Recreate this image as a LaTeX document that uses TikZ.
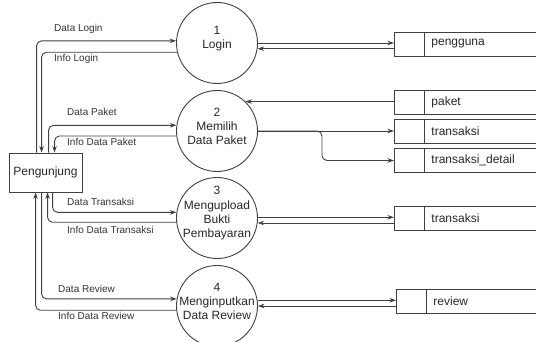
\documentclass[tikz,border=0pt]{standalone}
\usepackage{fontspec}
\setmainfont{Liberation Sans}
\usetikzlibrary{arrows.meta}
\colorlet{ln}{black!75}

\begin{document}
\begin{tikzpicture}[x=1pt, y=-1pt,
  proc/.style={circle, draw=ln, line width=0.9pt, minimum size=81pt, inner sep=0pt},
  ptext/.style={align=center, inner sep=0pt, font=\fontsize{12}{14.3}\selectfont, text=black!85},
  store/.style={draw=ln, line width=0.9pt, rectangle, anchor=west, minimum height=24pt, text width=150pt, inner xsep=0pt, align=left, font=\fontsize{12}{14}\selectfont, text=black!85, execute at begin node={\hspace*{37pt}}},
  ent/.style={draw=ln, line width=0.9pt, rectangle, minimum width=73pt, minimum height=39pt, inner sep=0pt, font=\fontsize{12}{14}\selectfont, text=black!85},
  lbl/.style={anchor=west, inner sep=0pt, text height=7pt, text depth=2pt, font=\fontsize{10}{12}\selectfont, text=black!80},
  flow/.style={draw=ln, line width=0.9pt, -{Stealth[length=6.5pt,width=4.5pt]}, rounded corners=5pt}]

  \useasboundingbox (0,0) rectangle (536,342);

  \node[ent] (peng) at (45.5,172.5) {Pengunjung};

  \node[proc] (p1) at (217,43) {};
  \node[proc] (p2) at (217,131) {};
  \node[proc] (p3) at (217,218) {};
  \node[proc] (p4) at (217,306) {};
  \node[ptext] (t1) at ([yshift=4.5pt]p1) {1\\Login};
  \node[ptext] (t2) at ([yshift=4.5pt]p2) {2\\Memilih\\Data Paket};
  \node[ptext] (t3) at ([yshift=4.5pt]p3) {3\\Mengupload\\Bukti\\Pembayaran};
  \node[ptext] (t4) at ([yshift=4.5pt]p4) {4\\Menginputkan\\Data Review};

  \node[store] (pengguna) at (394,44) {pengguna};
  \node[store] (paket) at (394,102.5) {paket};
  \node[store] (transaksi) at (394,131.5) {transaksi};
  \node[store] (detail) at (394,160.5) {transaksi\_detail};
  \node[store] (transaksi2) at (394,218.5) {transaksi};
  \node[store] (review) at (396,301.5) {review};
  \foreach \s in {pengguna,paket,transaksi,detail,transaksi2,review}
    \draw[draw=ln, line width=0.9pt] ([xshift=30pt]\s.north west) -- ([xshift=30pt]\s.south west);

  \draw[flow] ([xshift=28pt]peng.north west) |- (p1.177);
  \draw[flow] (p1.193) -| ([xshift=33pt]peng.north west);
  \draw[flow] ([xshift=40pt]peng.north west) |- (p2.172);
  \draw[flow] (p2.187) -| ([xshift=46pt]peng.north west);
  \draw[flow] ([xshift=44pt]peng.south west) |- (p3.172);
  \draw[flow] (p3.186) -| ([xshift=39pt]peng.south west);
  \draw[flow] ([xshift=33pt]peng.south west) |- (p4.170);
  \draw[flow] (p4.186) -| ([xshift=27pt]peng.south west);

  \draw[flow] (p1.0) -- (p1.0 -| pengguna.west);
  \draw[flow] (pengguna.west |- p1.352) -- (p1.352);
  \draw[flow] (paket.west |- p2.46) -- (p2.46);
  \draw[flow] (p2.0) -- (p2.0 -| transaksi.west);
  \draw[flow] (p2.0) -| ([xshift=-72pt]detail.west) -- (detail.west);
  \draw[flow] (p3.1) -- (p3.1 -| transaksi2.west);
  \draw[flow] (transaksi2.west |- p3.353) -- (p3.353);
  \draw[flow] (p4.8) -- (p4.8 -| review.west);
  \draw[flow] (review.west |- p4.0) -- (p4.0);

  \node[lbl] (lDataLogin) at (54,29) {Data Login};
  \node[lbl] (lInfoLogin) at (54,59) {Info Login};
  \node[lbl] (lDataPaket) at (67,113) {Data Paket};
  \node[lbl] (lInfoPaket) at (67,143) {Info Data Paket};
  \node[lbl] (lDataTrans) at (67,203) {Data Transaksi};
  \node[lbl] (lInfoTrans) at (67,231) {Info Data Transaksi};
  \node[lbl] (lDataReview) at (58,290) {Data Review};
  \node[lbl] (lInfoReview) at (58,317) {Info Data Review};
\end{tikzpicture}
\end{document}
